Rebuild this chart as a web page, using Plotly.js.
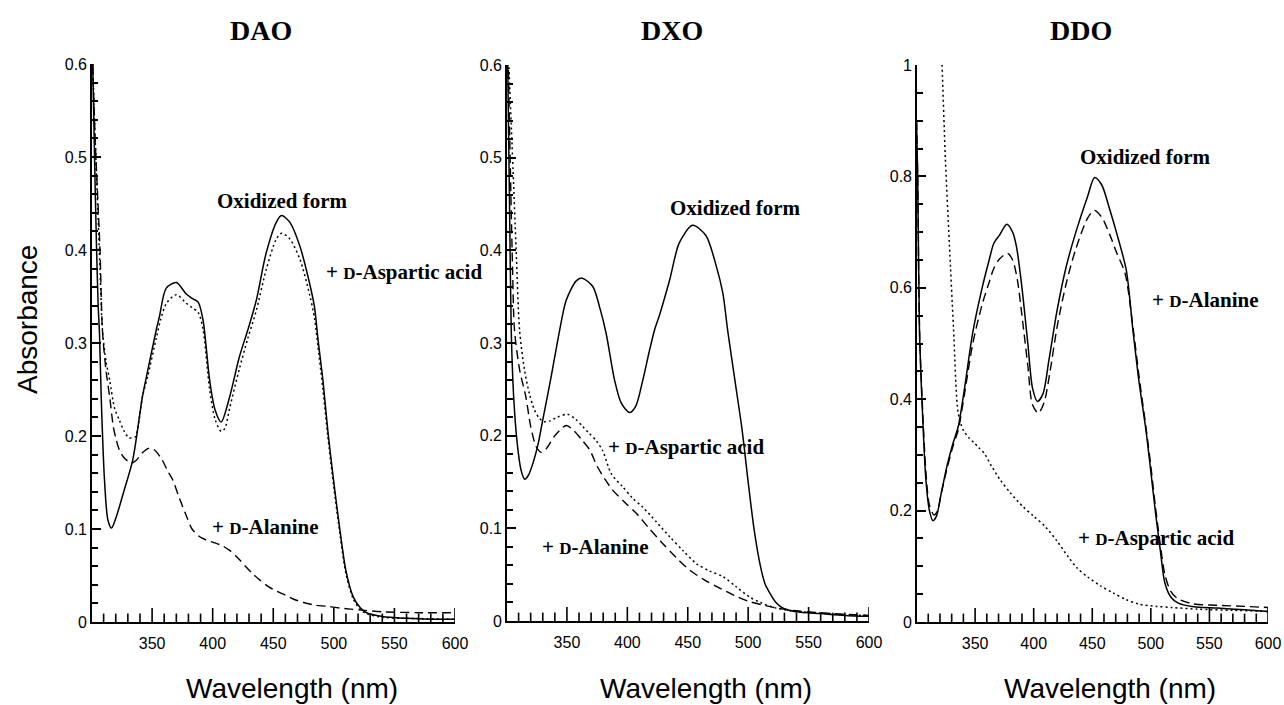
<!DOCTYPE html>
<html><head><meta charset="utf-8">
<script src="https://cdn.plot.ly/plotly-3.0.1.min.js"></script>
<style>html,body{margin:0;padding:0;background:#fff;} #chart{width:1284px;height:705px;}</style>
</head><body><div id="chart"></div>
<script>
// ---------- DATA ----------
const panelTitles = ["DAO", "DXO", "DDO"];
const xTickStart = 350, xTickStep = 50, xMinorStep = 10;

// DAO
const daoOxWl  = [300,301,302.5,304,305.5,306.6,308,310.7,313.5,316.5,320.4,327,334,342,346.5,353.4,356,361.7,370,378,383,388,392,397.5,402,407,414,422,429,436,444,452.6,456.8,463.6,472,480,484,487,491,495,500,505,510,516,522,527,540,560,580,600];
const daoOxAbs = [0.66,0.60,0.50,0.41,0.34,0.31,0.242,0.153,0.11,0.101,0.113,0.142,0.174,0.242,0.271,0.314,0.328,0.359,0.365,0.353,0.348,0.344,0.325,0.26,0.228,0.215,0.242,0.285,0.314,0.346,0.396,0.430,0.437,0.430,0.404,0.364,0.339,0.303,0.26,0.206,0.15,0.099,0.055,0.027,0.015,0.010,0.006,0.004,0.003,0.003];
const daoAspWl  = [300,301,303,305,307,309,312,315,319,323,327,331,336,339,342,346.5,353.4,357,362,370,378,383,388,392,397.5,402,407,410,414,422,429,436,444,452.6,457,463.6,472,480,484,487,491,495,500,505,510,516,522,527,540,560,600];
const daoAspAbs = [0.66,0.60,0.52,0.45,0.38,0.314,0.28,0.26,0.23,0.217,0.205,0.198,0.199,0.215,0.242,0.265,0.305,0.325,0.343,0.352,0.343,0.338,0.333,0.315,0.25,0.218,0.205,0.208,0.23,0.272,0.305,0.335,0.378,0.412,0.418,0.412,0.39,0.352,0.327,0.295,0.25,0.2,0.145,0.095,0.052,0.025,0.013,0.009,0.005,0.004,0.003];
const daoAlaWl  = [300,301,303,305,307,309,312,315,318,320.4,323,326,330,333,337,342,348,352,358,363,367,372,378,383,389,395,402,408,414,420,427,433,439,446,453,460,466,475,485,494,505,521,540,570,600];
const daoAlaAbs = [0.66,0.60,0.52,0.46,0.40,0.314,0.27,0.242,0.21,0.196,0.185,0.178,0.173,0.171,0.174,0.182,0.187,0.185,0.175,0.162,0.153,0.135,0.115,0.100,0.092,0.088,0.085,0.082,0.077,0.070,0.060,0.052,0.045,0.038,0.033,0.029,0.025,0.021,0.018,0.017,0.015,0.013,0.011,0.010,0.010];

// DXO
const dxoOxWl  = [300,301,302.5,303.9,306,309,312,315,318,321.8,326,330,337,344,349.4,357.7,362.6,371.4,377,382.5,389.4,395,401.8,407,412.8,418,422.5,426.6,435,443,454,465,473.6,479,483,489,495,500,505,510,514,518,523,528.5,540,560,580,600];
const dxoOxAbs = [0.70,0.60,0.45,0.314,0.24,0.19,0.163,0.153,0.157,0.17,0.19,0.217,0.264,0.314,0.346,0.367,0.370,0.361,0.339,0.31,0.26,0.235,0.225,0.232,0.26,0.29,0.314,0.33,0.368,0.408,0.427,0.416,0.383,0.354,0.314,0.26,0.206,0.15,0.098,0.06,0.04,0.03,0.02,0.014,0.01,0.008,0.006,0.005];
const dxoAspWl  = [300,302,305,308,310.8,315,319,323,327,331,336,342,350.5,357,363,368,374,379.5,386.7,396,404,412.6,424,435,446,457,468,479,490,501,510,520,535,555,575,600];
const dxoAspAbs = [0.70,0.60,0.50,0.40,0.314,0.27,0.245,0.228,0.219,0.215,0.216,0.22,0.223,0.218,0.21,0.203,0.195,0.184,0.159,0.145,0.133,0.123,0.107,0.091,0.076,0.062,0.054,0.048,0.037,0.026,0.020,0.015,0.011,0.009,0.007,0.006];
const dxoAlaWl  = [300,301.5,303,305,306.6,311,316,320,324.6,328.7,333,340,349.4,356,362,368.7,375,382,388,398,407.6,418,429,440,451.5,463,474,488,501,520,540,570,600];
const dxoAlaAbs = [0.70,0.60,0.50,0.38,0.314,0.27,0.242,0.21,0.188,0.182,0.186,0.20,0.211,0.205,0.196,0.185,0.167,0.152,0.141,0.128,0.116,0.100,0.084,0.069,0.055,0.045,0.037,0.028,0.021,0.015,0.011,0.008,0.006];

// DDO
const ddoOxWl  = [300,301,302.5,305,308,311,314,317,321,326,331,335.6,341,348,356,362,366,371,377,382,385.3,390,395,399,403.3,408,413,420,428,436,446,452,458,465,470.7,479,484.7,490,495.8,500,504,508,512,517,523.4,535,556.6,580,600];
const ddoOxAbs = [0.90,0.80,0.524,0.38,0.255,0.20,0.182,0.19,0.23,0.28,0.32,0.351,0.42,0.52,0.60,0.65,0.68,0.695,0.714,0.70,0.674,0.60,0.50,0.42,0.396,0.41,0.47,0.56,0.64,0.70,0.764,0.798,0.785,0.74,0.699,0.632,0.524,0.43,0.345,0.27,0.196,0.13,0.07,0.045,0.034,0.028,0.025,0.022,0.019];
const ddoAlaWl  = [300,301,302.5,305,308,311,315,318,321,326,331,335.6,341,348,356,362,366,371,377.6,382,386,390,395,399,404,409,414,420,428,436,446,451.6,458,465,471,478,484.7,490,495.8,500,504,508,512,517,523,535,556.6,580,600];
const ddoAlaAbs = [0.90,0.80,0.53,0.39,0.27,0.21,0.192,0.20,0.23,0.275,0.315,0.345,0.41,0.50,0.57,0.61,0.635,0.652,0.662,0.65,0.615,0.55,0.46,0.39,0.375,0.395,0.45,0.53,0.61,0.67,0.725,0.739,0.727,0.695,0.662,0.626,0.53,0.44,0.35,0.28,0.205,0.14,0.085,0.055,0.042,0.033,0.030,0.028,0.026];
const ddoAspWl  = [316,319,321.8,324.6,328,331.5,335.6,339.8,345,349.5,353,357.7,364,371.5,380,390.9,400,410,420,429.5,437,446,457,468,479,490,505,518,540,570,600];
const ddoAspAbs = [1.35,1.15,1.0,0.833,0.68,0.53,0.375,0.345,0.33,0.321,0.313,0.303,0.28,0.255,0.232,0.207,0.19,0.171,0.145,0.117,0.097,0.081,0.065,0.052,0.040,0.032,0.028,0.026,0.023,0.021,0.019];

const annotationLabels = {
  ox: "<b>Oxidized form</b>",
  asp: "<b>+ <span style=\"font-size:17px\">D</span>-Aspartic acid</b>",
  ala: "<b>+ <span style=\"font-size:17px\">D</span>-Alanine</b>"
};

// ---------- LAYOUT (pixel geometry) ----------
const W = 1284, H = 705;
const px = v => v / W, py = v => 1 - v / H;
const panels = [
  {x0: 92,  x1: 455,  top: 64, bot: 622, yr: [0, 0.6], dt: 0.1, mdt: 0.02},
  {x0: 507, x1: 869,  top: 65, bot: 621, yr: [0, 0.6], dt: 0.1, mdt: 0.02},
  {x0: 917, x1: 1268, top: 65, bot: 622, yr: [0, 1.0], dt: 0.2, mdt: 0.05}
];
const xRange = [300.4, 600];

const tickFont = {family: "Liberation Sans, Arial, sans-serif", size: 16, color: "#000"};
const solid = {color: "#000", width: 1.5, shape: "spline", smoothing: 0.8};
const dotted = {color: "#000", width: 1.5, dash: "2px,3px", shape: "spline", smoothing: 0.8};
const dashed = {color: "#000", width: 1.4, dash: "9px,5px", shape: "spline", smoothing: 0.8};

const series = [
  [daoOxWl, daoOxAbs, solid], [daoAspWl, daoAspAbs, dotted], [daoAlaWl, daoAlaAbs, dashed],
  [dxoOxWl, dxoOxAbs, solid], [dxoAspWl, dxoAspAbs, dotted], [dxoAlaWl, dxoAlaAbs, dashed],
  [ddoOxWl, ddoOxAbs, solid], [ddoAlaWl, ddoAlaAbs, dashed], [ddoAspWl, ddoAspAbs, dotted]
];
const traces = series.map((s, i) => {
  const p = Math.floor(i / 3) + 1;
  return {x: s[0], y: s[1], mode: "lines", line: s[2], showlegend: false, hoverinfo: "skip",
          xaxis: p === 1 ? "x" : "x" + p, yaxis: p === 1 ? "y" : "y" + p};
});

// inside x-axis tick marks: vertical line markers centred on the axis, clipped to the plot area
const majorTickWl = [], minorTickWl = [];
for (let w = xTickStart - 4 * xMinorStep; w <= 600; w += xMinorStep) {
  ((w - xTickStart) % xTickStep === 0 ? majorTickWl : minorTickWl).push(w);
}
[1, 2, 3].forEach(p => {
  const xa = p === 1 ? "x" : "x" + p, ya = p === 1 ? "y" : "y" + p;
  [[majorTickWl, 20], [minorTickWl, 12]].forEach(([vals, size]) => {
    traces.push({x: vals, y: vals.map(() => 0), mode: "markers", xaxis: xa, yaxis: ya,
      cliponaxis: true, showlegend: false, hoverinfo: "skip",
      marker: {symbol: "line-ns-open", size: size, color: "#000", line: {color: "#000", width: 1.6}}});
  });
});

const layout = {
  width: W, height: H, margin: {l: 0, r: 0, t: 0, b: 0},
  paper_bgcolor: "#fff", plot_bgcolor: "#fff", showlegend: false,
  annotations: []
};
panels.forEach((p, i) => {
  const k = i === 0 ? "" : String(i + 1);
  layout["xaxis" + k] = {
    domain: [px(p.x0), px(p.x1)], range: xRange, anchor: "y" + k,
    showline: true, linecolor: "#000", linewidth: 1.6, showgrid: false, zeroline: false,
    tickmode: "linear", tick0: xTickStart, dtick: xTickStep, ticks: "", ticklabelstandoff: 6,
    tickfont: tickFont, automargin: false
  };
  layout["yaxis" + k] = {
    domain: [py(p.bot), py(p.top)], range: p.yr, anchor: "x" + k,
    showline: true, linecolor: "#000", linewidth: 1.6, showgrid: false, zeroline: false,
    tickmode: "linear", tick0: 0, dtick: p.dt, ticks: "inside", ticklen: 9, tickwidth: 1.6, tickcolor: "#000",
    minor: {tickmode: "linear", tick0: 0, dtick: p.mdt, ticks: "inside", ticklen: 6, tickwidth: 1.6, tickcolor: "#000", showgrid: false},
    tickfont: tickFont, automargin: false
  };
});

const serif = "Liberation Serif, Times New Roman, serif";
const sans = "Liberation Sans, Arial, sans-serif";
function ann(text, x, y, size, family, extra) {
  layout.annotations.push(Object.assign({text: text, x: px(x), y: py(y), xref: "paper", yref: "paper",
    showarrow: false, xanchor: "center", yanchor: "middle", font: {family: family, size: size, color: "#000"}}, extra || {}));
}
ann("<b>" + panelTitles[0] + "</b>", 261, 31, 28, serif);
ann("<b>" + panelTitles[1] + "</b>", 672, 31, 28, serif);
ann("<b>" + panelTitles[2] + "</b>", 1081, 31, 28, serif);
ann("Absorbance", 27, 320, 28, sans, {textangle: -90});
ann("Wavelength (nm)", 292, 688, 28, sans);
ann("Wavelength (nm)", 706, 688, 28, sans);
ann("Wavelength (nm)", 1110, 688, 28, sans);
ann(annotationLabels.ox, 282, 201, 21, serif);
ann(annotationLabels.asp, 404, 272, 21, serif);
ann(annotationLabels.ala, 265, 527, 21, serif);
ann(annotationLabels.ox, 735, 208, 21, serif);
ann(annotationLabels.asp, 686, 447, 21, serif);
ann(annotationLabels.ala, 595, 547, 21, serif);
ann(annotationLabels.ox, 1145, 157, 21, serif);
ann(annotationLabels.ala, 1205, 300, 21, serif);
ann(annotationLabels.asp, 1156, 538, 21, serif);

Plotly.newPlot("chart", traces, layout, {displayModeBar: false});
</script></body></html>
